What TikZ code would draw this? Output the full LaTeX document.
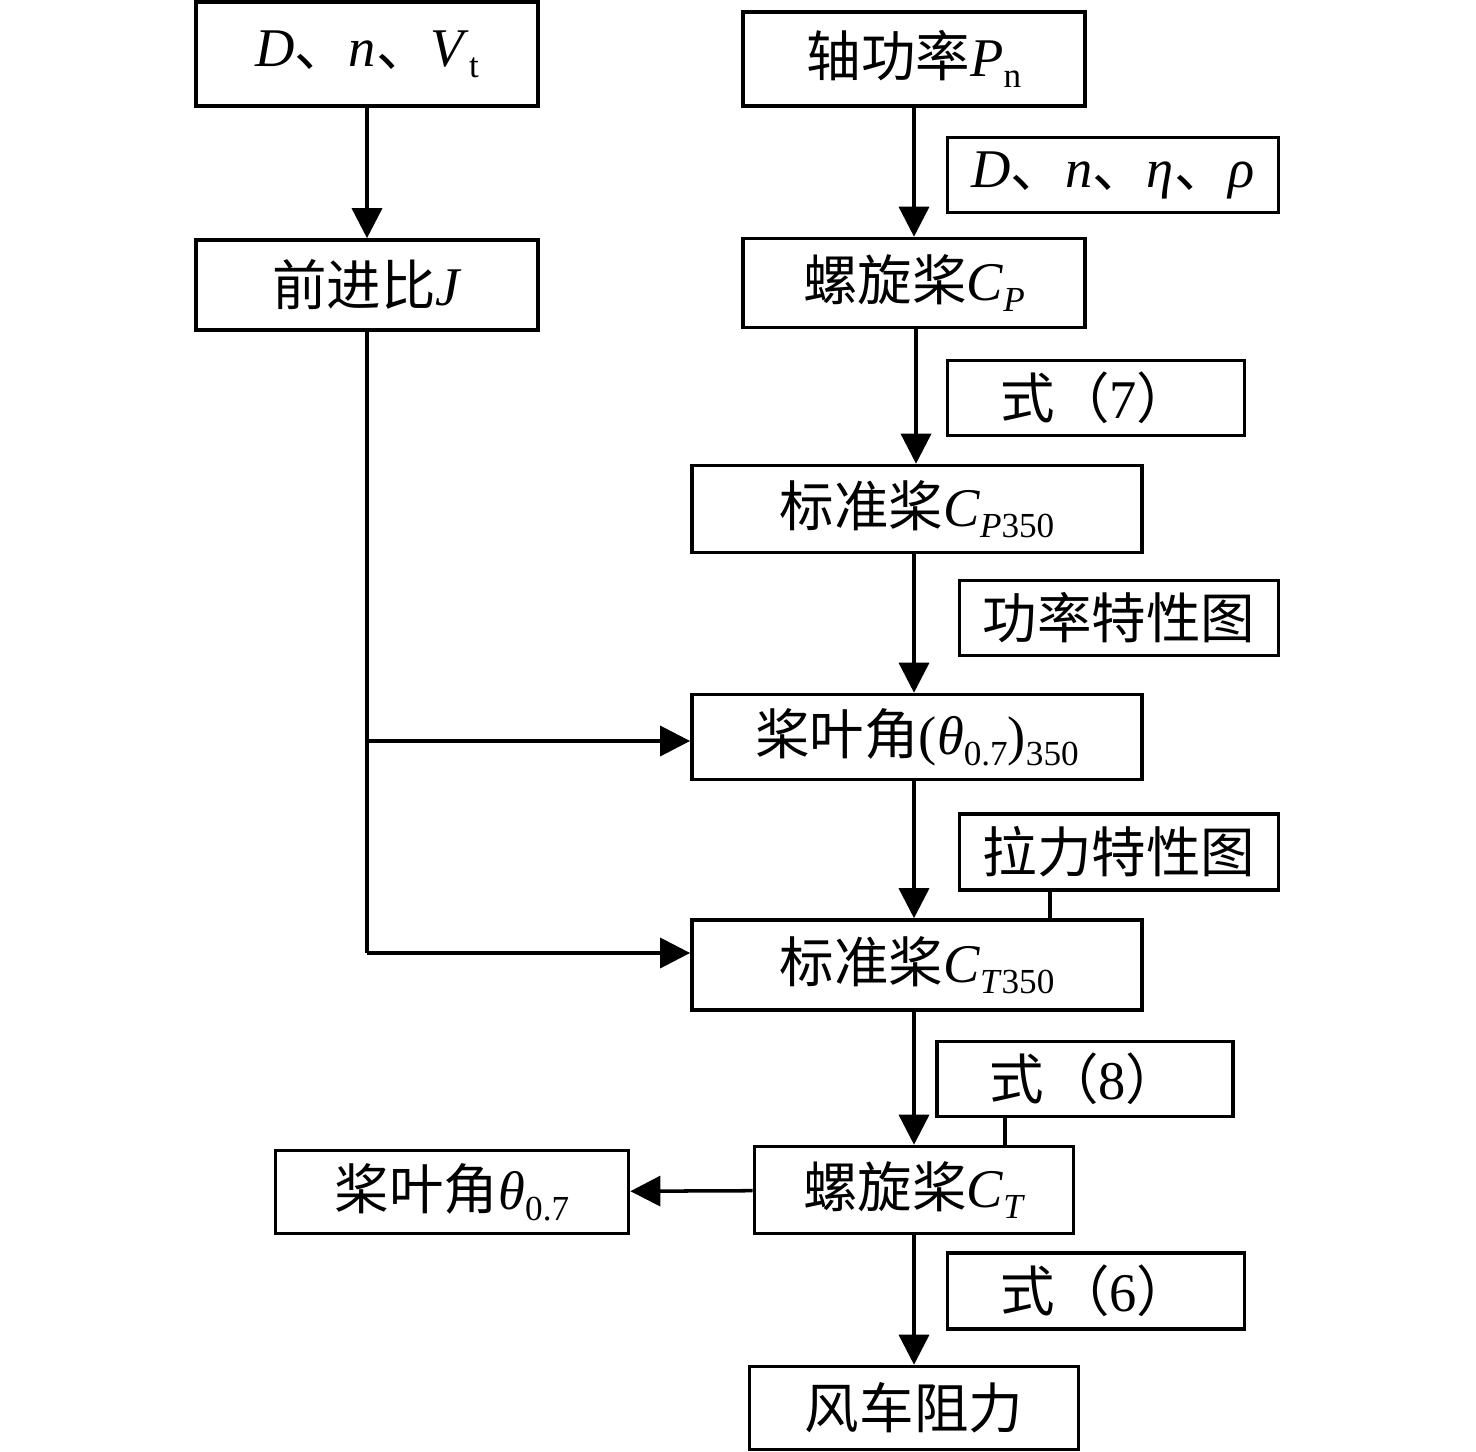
\documentclass[tikz,border=0pt]{standalone}
\usepackage{fontspec}
\setmainfont{Liberation Serif}
\newfontfamily\cjk{Noto Sans CJK SC}
\usetikzlibrary{arrows.meta}
\newcommand{\sub}[1]{\raisebox{-0.45ex}{\fontsize{10}{10}\selectfont #1}}
\begin{document}
\begin{tikzpicture}[x=0.01cm, y=-0.01cm, line width=1pt,
  flow box/.style={draw, line width=1pt, inner sep=0pt, minimum width=3.42cm, minimum height=0.9cm},
  note box/.style={draw, line width=1pt, inner sep=0pt, minimum height=0.75cm},
  arr/.style={-{Triangle[length=0.3cm, width=0.3cm]}}]
\useasboundingbox (0,0) rectangle (1476,1452);
\begin{scope}[every node/.style={font=\fontsize{15.5}{18}\selectfont}]
\node [flow box, minimum height=1.04cm](dnv) at (367,54) {\textit{D}{\cjk 、}\textit{n}{\cjk 、}\textit{V}\sub{t}};
\node [flow box, minimum height=0.94cm](pn) at (914,59) {{\cjk 轴功率}\textit{P}\sub{n}};
\node [note box, minimum width=3.31cm](dnrho) at (1113,175) {\textit{D}{\cjk 、}\textit{n}{\cjk 、}\textit{η}{\cjk 、}\textit{ρ}};
\node [flow box](jratio) at (367,285) {{\cjk 前进比}\textit{J}};
\node [flow box, minimum height=0.89cm](cp) at (914,283) {{\cjk 螺旋桨}\textit{C}\sub{\textit{P}}};
\node [note box, minimum width=2.97cm](eqseven) at (1096,398) {{\cjk 式（}7{\cjk ）}};
\node [flow box, minimum width=4.5cm, minimum height=0.87cm](cpstd) at (917,509) {{\cjk 标准桨}\textit{C}\sub{\textit{P}350}};
\node [note box, minimum width=3.19cm](pchart) at (1119,618) {{\cjk 功率特性图}};
\node [flow box, minimum width=4.5cm, minimum height=0.85cm](thstd) at (917,737) {{\cjk 桨叶角}(\textit{θ}\sub{0.7})\sub{350}};
\node [note box, minimum width=3.19cm, minimum height=0.76cm](tchart) at (1119,852) {{\cjk 拉力特性图}};
\node [flow box, minimum width=4.5cm](ctstd) at (917,965) {{\cjk 标准桨}\textit{C}\sub{\textit{T}350}};
\node [note box, minimum width=2.96cm](eqeight) at (1085,1079) {{\cjk 式（}8{\cjk ）}};
\node [flow box, minimum width=3.19cm, minimum height=0.87cm](ct) at (914,1190) {{\cjk 螺旋桨}\textit{C}\sub{\textit{T}}};
\node [flow box, minimum width=3.53cm, minimum height=0.83cm](theta) at (452,1192) {{\cjk 桨叶角}\textit{θ}\sub{0.7}};
\node [note box, minimum width=2.97cm, minimum height=0.76cm](eqsix) at (1096,1291) {{\cjk 式（}6{\cjk ）}};
\node [flow box, minimum width=3.29cm, minimum height=0.83cm](drag) at (914,1408) {{\cjk 风车阻力}};
\end{scope}
\path
	(dnv) edge [arr] (jratio)
	(pn) edge [arr] (cp)
	(ct) edge [arr] (theta)
	(ct) edge [arr] (drag)
	;
\draw [arr] (cp.south -| 916,0) -- (cpstd.north -| 916,0);
\draw [arr] (cpstd.south -| 914,0) -- (thstd.north -| 914,0);
\draw [arr] (thstd.south -| 914,0) -- (ctstd.north -| 914,0);
\draw [arr] (ctstd.south -| 914,0) -- (ct.north -| 914,0);
\draw (jratio.south) -- (367,953);
\draw [arr] (367,741) -- (thstd.west |- 0,741);
\draw [arr] (367,953) -- (ctstd.west |- 0,953);
\draw (tchart.south -| 1050,0) -- (ctstd.north -| 1050,0);
\draw (eqeight.south -| 1005,0) -- (ct.north -| 1005,0);
\end{tikzpicture}
\end{document}
